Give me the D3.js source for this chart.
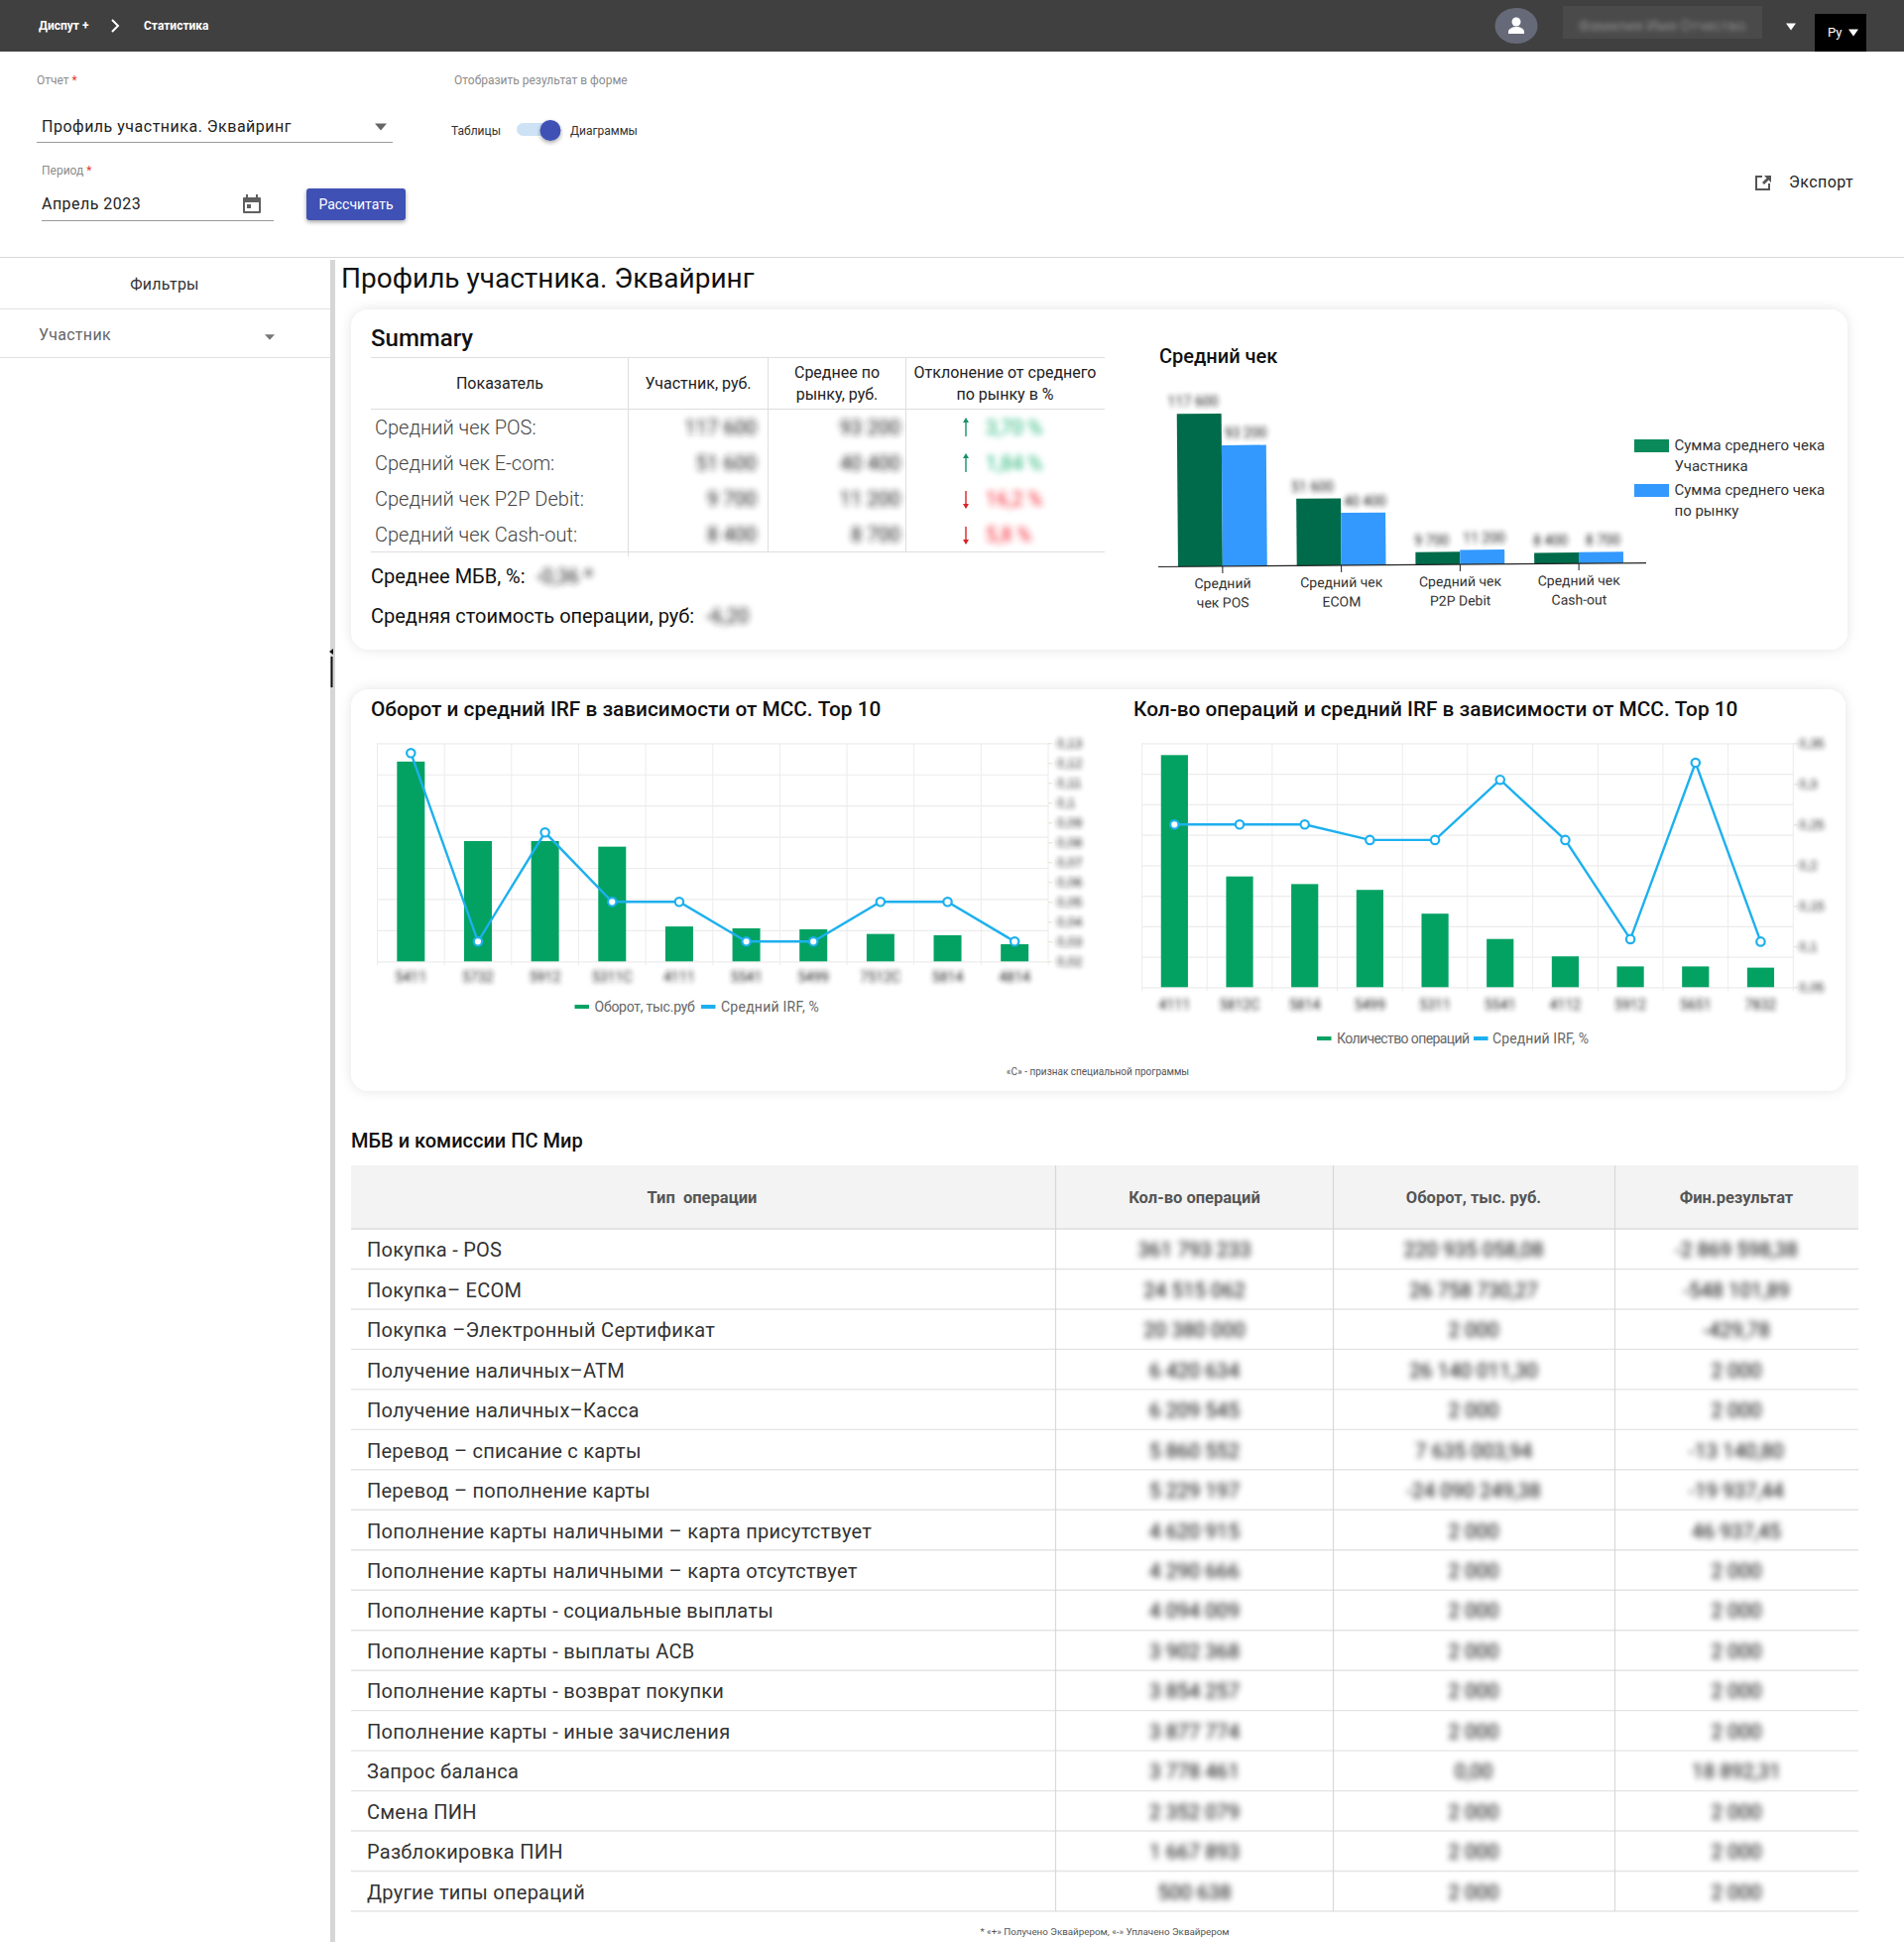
<!DOCTYPE html>
<html lang="ru">
<head>
<meta charset="utf-8">
<title>Профиль участника. Эквайринг</title>
<script src="https://cdn.jsdelivr.net/npm/d3@7"></script>
<style>
    html, body { margin: 0; background: #fff; }
    svg { display: block; font-family: Roboto, sans-serif; }
    .domain { display: none; }
</style>
</head>
<body>
<div id="page"></div>
<script>
// средний чек
const checkCategories = ["Средний чек POS", "Средний чек ECOM", "Средний чек P2P Debit", "Средний чек Cash-out"];
const checkLabels = [["Средний", "чек POS"], ["Средний чек", "ECOM"], ["Средний чек", "P2P Debit"], ["Средний чек", "Cash-out"]];
const checkParticipant = [117600, 51600, 9700, 8400];
const checkMarket = [93200, 40400, 11200, 8700];
const checkRows = ["Средний чек POS:", "Средний чек E-com:", "Средний чек P2P Debit:", "Средний чек Cash-out:"];
const checkDeviation = ["3,70 %", "1,84 %", "16,2 %", "5,8 %"];
const checkDirection = [1, 1, -1, -1];

// оборот и IRF
const mccTurnover = ["5411", "5732", "5912", "5311С", "4111", "5541", "5499", "7512С", "5814", "4814"];
const turnoverValues = [641, 386, 386, 368, 112, 106, 103, 88, 84, 55];
const turnoverIrf = [0.125, 0.03, 0.085, 0.05, 0.05, 0.03, 0.03, 0.05, 0.05, 0.03];
const turnoverLeftTicks = [0, 100, 200, 300, 400, 500, 600, 700];
const turnoverRightTicks = [0.02, 0.03, 0.04, 0.05, 0.06, 0.07, 0.08, 0.09, 0.1, 0.11, 0.12, 0.13];

// количество операций и IRF
const mccCount = ["4111", "5812С", "5814", "5499", "5311", "5541", "4112", "5912", "5651", "7832"];
const countValues = [7610, 3630, 3380, 3190, 2410, 1580, 1010, 680, 680, 640];
const countIrf = [0.25, 0.25, 0.25, 0.231, 0.231, 0.305, 0.231, 0.109, 0.326, 0.106];
const countLeftTicks = [0, 1000, 2000, 3000, 4000, 5000, 6000, 7000, 8000];
const countRightTicks = [0.05, 0.1, 0.15, 0.2, 0.25, 0.3, 0.35];

// МБВ и комиссии
const mbvTypes = [
    "Покупка - POS", "Покупка– ECOM", "Покупка –Электронный Сертификат", "Получение наличных–АТМ",
    "Получение наличных–Касса", "Перевод – списание с карты", "Перевод – пополнение карты",
    "Пополнение карты наличными – карта присутствует", "Пополнение карты наличными – карта отсутствует",
    "Пополнение карты - социальные выплаты", "Пополнение карты - выплаты АСВ", "Пополнение карты - возврат покупки",
    "Пополнение карты - иные зачисления", "Запрос баланса", "Смена ПИН", "Разблокировка ПИН", "Другие типы операций"
];
const mbvCounts = [
    "361 793 233", "24 515 062", "20 380 000", "6 420 634", "6 209 545", "5 860 552", "5 229 197", "4 620 915",
    "4 290 666", "4 094 009", "3 902 368", "3 854 257", "3 877 774", "3 778 461", "2 352 079", "1 667 893", "500 638"
];
const mbvTurnover = [
    "220 935 058,08", "26 758 730,27", "2 000", "26 140 011,30", "2 000", "7 635 003,94", "-24 090 249,38", "2 000",
    "2 000", "2 000", "2 000", "2 000", "2 000", "0,00", "2 000", "2 000", "2 000"
];
const mbvResult = [
    "-2 869 598,38", "-548 101,89", "-429,78", "2 000", "2 000", "-13 140,80", "-19 937,44", "46 937,45",
    "2 000", "2 000", "2 000", "2 000", "2 000", "18 892,31", "2 000", "2 000", "2 000"
];

const colors = {
    dark: "#404040", indigo: "#3f51b5", line: "#dedede", grid: "#ececec",
    barGreen: "#03a263", lineBlue: "#1db0ee", checkGreen: "#006b4a", checkBlue: "#3399ff"
};
const groupFormat = v => d3.format(",")(v).replace(/,/g, " ");
const commaFormat = v => String(+v.toFixed(2)).replace(".", ",");

const svg = d3.select("#page").append("svg").attr("width", 1920).attr("height", 1958);

const defs = svg.append("defs");
function addBlur(id, std) {
    defs.append("filter").attr("id", id)
        .attr("x", "-30%").attr("y", "-80%").attr("width", "160%").attr("height", "260%")
        .append("feGaussianBlur").attr("stdDeviation", std);
}
addBlur("blur", 3.4);
addBlur("blurSmall", 2.8);
function addShadow(id, dy, std, opacity) {
    defs.append("filter").attr("id", id)
        .attr("x", "-10%").attr("y", "-20%").attr("width", "120%").attr("height", "140%")
        .append("feDropShadow").attr("dx", 0).attr("dy", dy).attr("stdDeviation", std)
        .attr("flood-color", "#000").attr("flood-opacity", opacity);
}
addShadow("cardShadow", 0, 6, 0.11);
addShadow("buttonShadow", 2, 2, 0.35);

function text(parent, x, y, str, size, fill, opts = {}) {
    return parent.append("text")
        .attr("x", x).attr("y", y)
        .attr("dominant-baseline", "central")
        .attr("text-anchor", opts.anchor || "start")
        .attr("font-size", size)
        .attr("font-weight", opts.weight || 400)
        .attr("letter-spacing", opts.spacing || null)
        .attr("fill", fill)
        .attr("filter", opts.filter || null)
        .text(str);
}
function hline(parent, x1, x2, y, color = colors.line, w = 1) {
    parent.append("line").attr("x1", x1).attr("x2", x2).attr("y1", y).attr("y2", y)
        .attr("stroke", color).attr("stroke-width", w);
}
function vline(parent, x, y1, y2, color = colors.line, w = 1) {
    parent.append("line").attr("x1", x).attr("x2", x).attr("y1", y1).attr("y2", y2)
        .attr("stroke", color).attr("stroke-width", w);
}
function triangle(parent, cx, cy, w, h, fill) {
    parent.append("path")
        .attr("d", `M${cx - w / 2},${cy - h / 2}h${w}l${-w / 2},${h}z`)
        .attr("fill", fill);
}

function drawHeader() {
    const g = svg.append("g");
    g.append("rect").attr("width", 1920).attr("height", 52).attr("fill", colors.dark);
    text(g, 39, 26, "Диспут +", 12, "#fff", { weight: 700 });
    g.append("path").attr("d", "M113,20l6,6l-6,6").attr("fill", "none").attr("stroke", "#fff").attr("stroke-width", 2);
    text(g, 145, 26, "Статистика", 12, "#fff", { weight: 700 });

    g.append("ellipse").attr("cx", 1529).attr("cy", 26).attr("rx", 21.5).attr("ry", 18).attr("fill", "#666a78");
    g.append("circle").attr("cx", 1529).attr("cy", 22).attr("r", 4.5).attr("fill", "#fff");
    g.append("path").attr("d", "M1521,34v-2c0,-3 4,-5 8,-5s8,2 8,5v2z").attr("fill", "#fff");

    g.append("rect").attr("x", 1576).attr("y", 6).attr("width", 201).attr("height", 33).attr("fill", "#4a4a4a");
    text(g, 1676, 26, "Фамилия Имя Отчество", 15, "#8a8a8a", { anchor: "middle", filter: "url(#blurSmall)" });
    triangle(g, 1806, 27, 10, 7, "#fff");
    g.append("rect").attr("x", 1830).attr("y", 14).attr("width", 52).attr("height", 38).attr("fill", "#000");
    text(g, 1843, 32.5, "Ру", 13, "#fff");
    triangle(g, 1869, 33, 10, 7, "#fff");
}

function drawForm() {
    const g = svg.append("g");
    const label = text(g, 37, 81, "Отчет ", 12, "#8c8c8c");
    label.append("tspan").attr("fill", "#e53935").text("*");
    text(g, 458, 81, "Отобразить результат в форме", 12, "#8c8c8c");

    text(g, 42, 127, "Профиль участника. Эквайринг", 16, "#222", { spacing: 0.5 });
    hline(g, 37, 396, 143.5, "#9a9a9a", 1);
    triangle(g, 384, 128, 12, 7, "#666");

    text(g, 455, 132, "Таблицы", 12, "#333");
    g.append("rect").attr("x", 521).attr("y", 124).attr("width", 40).attr("height", 13).attr("rx", 6.5).attr("fill", "#cde2f5");
    g.append("circle").attr("cx", 555).attr("cy", 131.5).attr("r", 10.5).attr("fill", colors.indigo).attr("filter", "url(#buttonShadow)");
    text(g, 575, 132, "Диаграммы", 12, "#333");

    const period = text(g, 42, 172, "Период ", 12, "#8c8c8c");
    period.append("tspan").attr("fill", "#e53935").text("*");
    text(g, 42, 205, "Апрель 2023", 16, "#222", { spacing: 0.47 });
    hline(g, 42, 276, 222.5, "#9a9a9a", 1);
    g.append("path")
        .attr("d", "M246,199h16a1,1 0 0 1 1,1v14a1,1 0 0 1 -1,1h-16a1,1 0 0 1 -1,-1v-14a1,1 0 0 1 1,-1z M247,204v9h14v-9z M248,196h2v3h-2z M258,196h2v3h-2z M249,206h4v4h-4z")
        .attr("fill", "#5f5f5f").attr("fill-rule", "evenodd");

    g.append("rect").attr("x", 309).attr("y", 190).attr("width", 100).attr("height", 32).attr("rx", 3)
        .attr("fill", colors.indigo).attr("filter", "url(#buttonShadow)");
    text(g, 359, 206, "Рассчитать", 14, "#fff", { anchor: "middle" });

    g.append("path")
        .attr("d", "M1772,177h5v2h-5v11h11v-5h2v7h-15v-15z M1779,177h7v7l-2.5,-2.5l-4.5,4.5l-2,-2l4.5,-4.5z")
        .attr("fill", "#555");
    text(g, 1804, 183, "Экспорт", 16, "#222", { spacing: 0.45 });

    hline(g, 0, 1920, 259.5, "#d8d8d8", 1.2);
}

function drawSidebar() {
    const g = svg.append("g");
    g.append("rect").attr("x", 333).attr("y", 262).attr("width", 5).attr("height", 1696).attr("fill", "#d6d6d6");
    text(g, 166, 286.5, "Фильтры", 16, "#333", { anchor: "middle", spacing: 0.2 });
    hline(g, 0, 333, 311.5, "#e2e2e2");
    text(g, 39, 337, "Участник", 16, "#666", { spacing: 0.3 });
    triangle(g, 272, 340, 10, 5.5, "#777");
    hline(g, 0, 333, 360.5, "#e2e2e2");
    // курсор на границе панели
    vline(g, 334.5, 662, 693, "#111", 2);
    g.append("path").attr("d", "M336,654l-4,3l4,3z").attr("fill", "#111");
}

function drawCards() {
    const g = svg.append("g");
    [[354, 312, 1509, 343], [354, 695, 1507, 405]].forEach(c => {
        g.append("rect").attr("x", c[0]).attr("y", c[1]).attr("width", c[2]).attr("height", c[3])
            .attr("rx", 18).attr("fill", "#fff").attr("filter", "url(#cardShadow)");
    });
    text(g, 344, 280, "Профиль участника. Эквайринг", 28, "#111");
}

function drawSummary() {
    const g = svg.append("g");
    text(g, 374, 341, "Summary", 24, "#111", { weight: 500 });
    hline(g, 374, 1114, 360.5);
    hline(g, 374, 1114, 412.5);
    hline(g, 374, 1114, 556.5);
    vline(g, 633.5, 360, 561);
    [774.5, 913.5].forEach(x => vline(g, x, 360, 556));

    text(g, 504, 386.5, "Показатель", 16, "#222", { anchor: "middle" });
    text(g, 704, 386.5, "Участник, руб.", 16, "#222", { anchor: "middle" });
    text(g, 844, 375.5, "Среднее по", 16, "#222", { anchor: "middle" });
    text(g, 844, 397.5, "рынку, руб.", 16, "#222", { anchor: "middle" });
    text(g, 1013.5, 375.5, "Отклонение от среднего", 16, "#222", { anchor: "middle" });
    text(g, 1013.5, 397.5, "по рынку в %", 16, "#222", { anchor: "middle" });

    const rowY = d3.scalePoint().domain(checkRows).range([431, 539]);
    const row = g.selectAll(".sumRow").data(checkRows).enter().append("g").attr("class", "sumRow");
    row.each(function (d, i) {
        const r = d3.select(this);
        const y = rowY(d);
        text(r, 378, y, d, 20, "#444", { weight: 300 });
        text(r, 763, y, groupFormat(checkParticipant[i]), 20, "#222", { anchor: "end", filter: "url(#blur)" });
        text(r, 908, y, groupFormat(checkMarket[i]), 20, "#222", { anchor: "end", filter: "url(#blur)" });
        const up = checkDirection[i] > 0;
        const col = up ? "#16916a" : "#d8232a";
        vline(r, 974, y - 8, y + 9, col, 1.4);
        r.append("path")
            .attr("d", up ? `M971,${y - 5}l3,-5l3,5z` : `M971,${y + 5}l3,5l3,-5z`)
            .attr("fill", col);
        text(r, 994, y, checkDeviation[i], 20, up ? "#18b070" : "#f5222d", { filter: "url(#blur)" });
    });

    text(g, 374, 581, "Среднее МБВ, %:", 20, "#111");
    text(g, 541, 581, "-0,36 *", 20, "#222", { filter: "url(#blur)" });
    text(g, 374, 621, "Средняя стоимость операции, руб:", 20, "#111");
    text(g, 712, 621, "-6,20", 20, "#222", { filter: "url(#blur)" });
}

function drawCheckChart() {
    const g = svg.append("g");
    text(g, 1169, 358.5, "Средний чек", 20, "#111", { weight: 500 });

    const baseY = 571.5;
    const plot = g.append("g").attr("transform", `rotate(-0.46 1168 ${baseY})`);
    const x = d3.scaleBand().domain(checkCategories).range([1173, 1652]).paddingInner(0.25).paddingOuter(0.125);
    const x1 = d3.scaleBand().domain([0, 1]).range([0, x.bandwidth()]);
    const y = d3.scaleLinear().domain([0, checkParticipant[0]]).range([baseY, baseY - 154]);

    const series = [
        { values: checkParticipant, color: colors.checkGreen },
        { values: checkMarket, color: colors.checkBlue }
    ];
    series.forEach((s, si) => {
        plot.selectAll(`.bar${si}`).data(checkCategories).enter().append("rect")
            .attr("x", d => x(d) + x1(si))
            .attr("width", x1.bandwidth())
            .attr("y", (d, i) => y(s.values[i]))
            .attr("height", (d, i) => baseY - y(s.values[i]))
            .attr("fill", s.color);
        plot.selectAll(`.val${si}`).data(checkCategories).enter().append("text")
            .attr("x", d => x(d) + x1(si) + x1.bandwidth() / 2 + (si ? 2 : -6))
            .attr("y", (d, i) => y(s.values[i]) - 12)
            .attr("text-anchor", "middle").attr("dominant-baseline", "central")
            .attr("font-size", 14).attr("fill", "#222").attr("filter", "url(#blurSmall)")
            .text((d, i) => groupFormat(s.values[i]));
    });

    const axis = plot.append("g").attr("transform", `translate(0,${baseY})`)
        .call(d3.axisBottom(x).tickSize(7).tickFormat(""));
    axis.selectAll("line").attr("stroke", "#222");
    hline(plot, 1168, 1660, baseY, "#222", 1.2);

    checkCategories.forEach((c, i) => {
        const cx = x(c) + x.bandwidth() / 2;
        text(plot, cx, baseY + 17, checkLabels[i][0], 14, "#333", { anchor: "middle" });
        text(plot, cx, baseY + 36.5, checkLabels[i][1], 14, "#333", { anchor: "middle" });
    });

    const legend = [
        { y: 443, color: "#0a8a5a", lines: ["Сумма среднего чека", "Участника"] },
        { y: 488, color: colors.checkBlue, lines: ["Сумма среднего чека", "по рынку"] }
    ];
    legend.forEach(l => {
        g.append("rect").attr("x", 1648).attr("y", l.y).attr("width", 35).attr("height", 13).attr("fill", l.color);
        text(g, 1688.5, l.y + 6, l.lines[0], 15, "#333");
        text(g, 1688.5, l.y + 26.5, l.lines[1], 15, "#333");
    });
}

function drawCombo(c) {
    const g = svg.append("g");
    text(g, c.titleX, 714.5, c.title, 20.8, "#111", { weight: 500 });

    const x = d3.scaleBand().domain(c.categories).range([c.left, c.right]).paddingInner(0.586).paddingOuter(0.293);
    const yLeft = d3.scaleLinear().domain(d3.extent(c.leftTicks)).range([c.bottom, c.top]);
    const yRight = d3.scaleLinear().domain(d3.extent(c.rightTicks)).range([c.bottom, c.top]);

    const gridH = g.append("g").attr("transform", `translate(${c.left},0)`)
        .call(d3.axisLeft(yLeft).tickValues(c.leftTicks).tickSize(-(c.right - c.left)).tickFormat(""));
    gridH.selectAll("line").attr("stroke", colors.grid).attr("stroke-width", 1.2);

    // вертикальная сетка по границам категорий
    const edges = c.categories.map(d => x(d) + x.bandwidth() / 2 - x.step() / 2).concat(c.right);
    g.selectAll(null).data(edges).enter().append("line")
        .attr("x1", d => d).attr("x2", d => d)
        .attr("y1", c.top).attr("y2", c.bottom + 4)
        .attr("stroke", colors.grid);

    g.selectAll(null).data(c.categories).enter().append("rect")
        .attr("x", d => x(d))
        .attr("width", x.bandwidth())
        .attr("y", (d, i) => yLeft(c.bars[i]))
        .attr("height", (d, i) => c.bottom - yLeft(c.bars[i]))
        .attr("fill", colors.barGreen);

    g.selectAll(null).data(c.categories).enter().append("text")
        .attr("x", d => x(d) + x.bandwidth() / 2)
        .attr("y", c.labelY)
        .attr("text-anchor", "middle").attr("dominant-baseline", "central")
        .attr("font-size", 14).attr("fill", "#222").attr("filter", "url(#blurSmall)")
        .text(d => d);

    const rightAxis = g.append("g").attr("transform", `translate(${c.right},0)`)
        .call(d3.axisRight(yRight).tickValues(c.rightTicks).tickSize(4).tickPadding(c.rightPad).tickFormat(commaFormat));
    rightAxis.selectAll("line").attr("stroke", c.tickColor);
    rightAxis.selectAll("text").attr("font-size", 13).attr("fill", "#222").attr("filter", "url(#blurSmall)");

    const line = d3.line().x((d, i) => x(c.categories[i]) + x.bandwidth() / 2).y(d => yRight(d));
    g.append("path").datum(c.irf).attr("d", line)
        .attr("fill", "none").attr("stroke", colors.lineBlue).attr("stroke-width", 2.4);
    g.selectAll(null).data(c.irf).enter().append("circle")
        .attr("cx", (d, i) => x(c.categories[i]) + x.bandwidth() / 2)
        .attr("cy", d => yRight(d))
        .attr("r", 4.2)
        .attr("fill", "#fff").attr("stroke", colors.lineBlue).attr("stroke-width", 2.2);

    c.legend.forEach(l => {
        g.append("rect").attr("x", l.dash).attr("y", c.legendY - 2).attr("width", 14.5).attr("height", 4)
            .attr("fill", l.color);
        text(g, l.x, c.legendY, l.text, 14, "#666", { spacing: l.spacing });
    });
}

function drawMbvTable() {
    const g = svg.append("g");
    text(g, 354, 1149.5, "МБВ и комиссии ПС Мир", 20, "#111", { weight: 500 });
    g.append("rect").attr("x", 354).attr("y", 1175).attr("width", 1520).attr("height", 64).attr("fill", "#f3f3f3");

    const header = [
        { t: "Тип  операции", x: 708 }, { t: "Кол-во операций", x: 1204.5 },
        { t: "Оборот, тыс. руб.", x: 1486 }, { t: "Фин.результат", x: 1751 }
    ];
    header.forEach(h => {
        text(g, h.x, 1207.5, h.t, 16.5, "#555", { anchor: "middle", weight: 700 }).attr("xml:space", "preserve");
    });

    const y = d3.scaleBand().domain(mbvTypes).range([1239, 1927]);
    hline(g, 354, 1874, 1239, "#dcdcdc", 1.4);
    const row = g.selectAll(".mbvRow").data(mbvTypes).enter().append("g").attr("class", "mbvRow");
    row.each(function (d, i) {
        const r = d3.select(this);
        const cy = y(d) + y.bandwidth() / 2 + 1;
        hline(r, 354, 1874, y(d) + y.bandwidth(), "#e4e4e4", 1.4);
        text(r, 370, cy, d, 20, "#333", { spacing: 0.25 });
        text(r, 1204.5, cy, mbvCounts[i], 20.5, "#111", { anchor: "middle", filter: "url(#blur)" });
        text(r, 1486, cy, mbvTurnover[i], 20.5, "#111", { anchor: "middle", filter: "url(#blur)" });
        text(r, 1751, cy, mbvResult[i], 20.5, "#111", { anchor: "middle", filter: "url(#blur)" });
    });
    [1064.5, 1344.5, 1628.5].forEach(x => vline(g, x, 1175, 1927, "#d8d8d8", 1.2));

    text(g, 1114, 1947.5, "* «+» Получено Эквайрером, «-» Уплачено Эквайрером", 9.8, "#555", { anchor: "middle" });
}

drawHeader();
drawForm();
drawSidebar();
drawCards();
drawSummary();
drawCheckChart();
drawCombo({
    title: "Оборот и средний IRF в зависимости от МСС. Top 10", titleX: 374,
    categories: mccTurnover, bars: turnoverValues, irf: turnoverIrf,
    leftTicks: turnoverLeftTicks, rightTicks: turnoverRightTicks,
    left: 380.5, right: 1057, top: 749.3, bottom: 969.3, labelY: 985, rightPad: 5, tickColor: "#eadfca",
    legendY: 1015,
    legend: [
        { dash: 579.5, x: 599.5, text: "Оборот, тыс.руб", color: colors.barGreen, spacing: -0.25 },
        { dash: 707, x: 727, text: "Средний IRF, %", color: colors.lineBlue, spacing: 0.25 }
    ]
});
drawCombo({
    title: "Кол-во операций и средний IRF в зависимости от МСС. Top 10", titleX: 1143,
    categories: mccCount, bars: countValues, irf: countIrf,
    leftTicks: countLeftTicks, rightTicks: countRightTicks,
    left: 1151.5, right: 1808.3, top: 749.3, bottom: 995.3, labelY: 1013, rightPad: 2, tickColor: "#e4e4e4",
    legendY: 1047,
    legend: [
        { dash: 1328, x: 1348, text: "Количество операций", color: colors.barGreen, spacing: -0.6 },
        { dash: 1486, x: 1505, text: "Средний IRF, %", color: colors.lineBlue, spacing: 0.1 }
    ]
});
text(svg, 1107, 1080, "«С» - признак специальной программы", 10, "#555", { anchor: "middle" });
drawMbvTable();
</script>
</body>
</html>
